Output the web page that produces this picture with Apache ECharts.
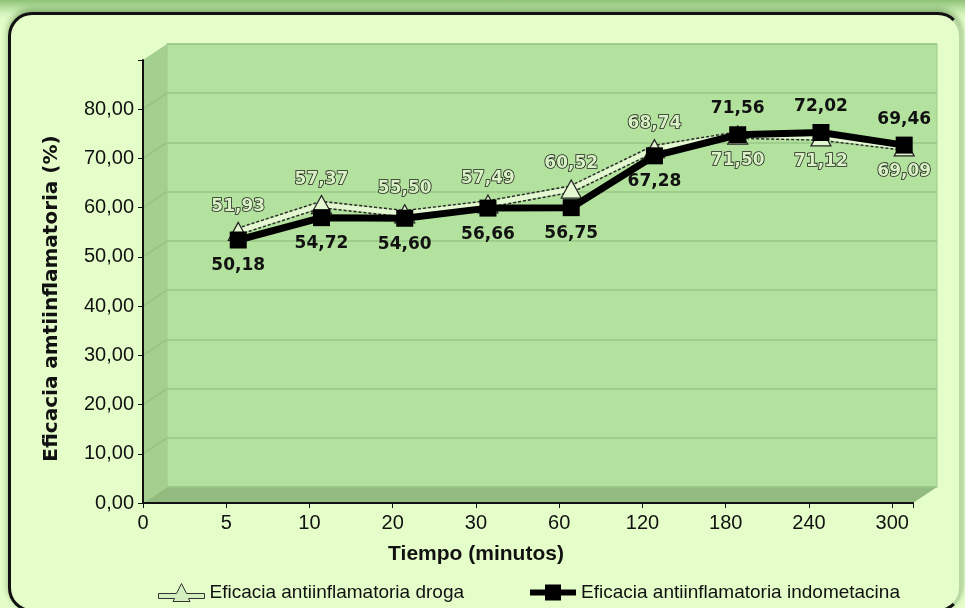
<!DOCTYPE html>
<html>
<head>
<meta charset="utf-8">
<script src="https://cdn.jsdelivr.net/npm/echarts@6/dist/echarts.min.js"></script>
<style>
  html, body { margin: 0; padding: 0; }
  body {
    width: 965px; height: 608px; overflow: hidden; position: relative;
    background: linear-gradient(#8fc177 0px, #b9e2a2 8px, #d6f5bf 14px, #e4fdc9 20px);
  }
  #frame {
    position: absolute; left: 8px; top: 12px; width: 954px; height: 600px;
    box-sizing: border-box;
    border: 3px solid #111; border-right-color: #b9d9a4;
    border-radius: 24px; background: #e4fdc9;
    box-shadow: 0 -3px 6px rgba(40, 90, 20, 0.45);
  }
  #main { position: absolute; left: 0; top: 0; width: 965px; height: 608px; }
</style>
</head>
<body>
<div id="frame"></div>
<div id="main"></div>
<script>
  // eje X (minutos) y series
  const xLabels = ['0', '5', '10', '20', '30', '60', '120', '180', '240', '300'];
  const tiempos = ['5', '10', '20', '30', '60', '120', '180', '240', '300'];
  const droga = [51.93, 57.37, 55.50, 57.49, 60.52, 68.74, 71.50, 71.12, 69.09];
  const indometacina = [50.18, 54.72, 54.60, 56.66, 56.75, 67.28, 71.56, 72.02, 69.46];
  const yTicks = [0, 10, 20, 30, 40, 50, 60, 70, 80];

  const nombreDroga = 'Eficacia antiinflamatoria droga';
  const nombreIndo = 'Eficacia antiinflamatoria indometacina';

  // plano frontal del grafico y profundidad del efecto 3D
  const front = { left: 143, top: 60, width: 770, height: 443 };
  const depth = { dx: 24, dy: -16 };
  const serieOffset = { dx: 12, dy: -16 }; // donde se dibujan las lineas
  const yMax = 90;
  const xMax = 9.25;

  const coma = (v) => v.toFixed(2).replace('.', ',');
  const labelFont = { fontFamily: 'DejaVu Sans', fontWeight: 'bold', fontSize: 17 };

  // iconos de la leyenda (barra + marcador)
  const iconDroga = 'path://M0 10L18 10L23 0L28 10L46 10L46 15L30 15L31.5 18L14.5 18L16 15L0 15Z';
  const iconIndo = 'path://M0 6L15 6L15 1L31 1L31 6L46 6L46 12L31 12L31 17L15 17L15 12L0 12Z';

  const grid = (dx, dy) => ({
    left: front.left + dx,
    top: front.top + dy,
    width: front.width,
    height: front.height
  });

  const puntos = (arr, otra) => arr.map((v, i) => ({
    value: [xLabels.indexOf(tiempos[i]), v],
    label: { position: v >= otra[i] ? 'top' : 'bottom' }
  }));

  const myChart = echarts.init(document.getElementById('main'));

  const hiddenX = (g) => ({
    type: 'value', gridIndex: g, min: 0, max: xMax, interval: 1,
    axisLine: { show: false }, axisTick: { show: false },
    axisLabel: { show: false }, splitLine: { show: false }
  });

  myChart.setOption({
    animation: false,
    grid: [
      Object.assign({ show: false }, grid(0, 0)),
      Object.assign({ show: false }, grid(serieOffset.dx, serieOffset.dy)),
      Object.assign({
        show: true,
        backgroundColor: '#b3e19e',
        borderColor: '#9fcc8b',
        borderWidth: 1
      }, grid(depth.dx, depth.dy))
    ],
    xAxis: [
      {
        type: 'value', gridIndex: 0, min: 0, max: xMax, interval: 1,
        name: 'Tiempo (minutos)', nameLocation: 'middle', nameGap: 41,
        nameTextStyle: {
          fontFamily: 'Liberation Sans', fontWeight: 'bold', fontSize: 21, color: '#111',
          padding: [0, 104, 0, 0]
        },
        axisLine: { lineStyle: { color: '#111', width: 2 } },
        axisTick: { lineStyle: { color: '#111' }, length: 5 },
        axisLabel: {
          fontFamily: 'Liberation Sans', fontSize: 20, color: '#111', margin: 10,
          formatter: (v) => (Number.isInteger(v) ? xLabels[v] : '')
        },
        splitLine: { show: false }
      },
      hiddenX(1),
      hiddenX(2)
    ],
    yAxis: [
      {
        type: 'value', gridIndex: 0, min: 0, max: yMax, interval: 10,
        name: 'Eficacia amtiinflamatoria (%)', nameLocation: 'middle', nameGap: 81,
        nameTextStyle: {
          fontFamily: 'DejaVu Sans', fontWeight: 'bold', fontSize: 20, color: '#111',
          padding: [0, 34, 0, 0]
        },
        axisLine: { show: true, lineStyle: { color: '#111', width: 2 } },
        axisTick: { show: true, lineStyle: { color: '#111' }, length: 5 },
        axisLabel: {
          fontFamily: 'Liberation Sans', fontSize: 20, color: '#111', margin: 9,
          formatter: (v) => (yTicks.includes(v) ? coma(v) : '')
        },
        splitLine: { show: false }
      },
      {
        type: 'value', gridIndex: 1, min: 0, max: yMax, interval: 10,
        axisLine: { show: false }, axisTick: { show: false },
        axisLabel: { show: false }, splitLine: { show: false }
      },
      {
        type: 'value', gridIndex: 2, min: 0, max: yMax, interval: 10,
        axisLine: { show: false }, axisTick: { show: false }, axisLabel: { show: false },
        splitLine: { show: true, lineStyle: { color: '#98c685', width: 1.5 } }
      }
    ],
    legend: {
      data: [
        { name: nombreDroga, icon: iconDroga,
          itemStyle: { color: '#d3efbe', borderColor: '#333', borderWidth: 1 } },
        { name: nombreIndo, icon: iconIndo, itemStyle: { color: '#000' } }
      ],
      left: 153, top: 578,
      itemWidth: 46, itemHeight: 18, itemGap: 66,
      textStyle: { fontFamily: 'Liberation Sans', fontSize: 19, color: '#111' }
    },
    series: [
      {
        // contorno de la linea de la droga
        name: 'contorno', type: 'line', xAxisIndex: 1, yAxisIndex: 1,
        data: puntos(droga, indometacina).map(p => p.value),
        symbol: 'none', silent: true, z: 2,
        lineStyle: { color: '#2b2b2b', width: 8, type: [3, 2] }
      },
      {
        name: nombreDroga, type: 'line', xAxisIndex: 1, yAxisIndex: 1,
        data: puntos(droga, indometacina),
        symbol: 'triangle', symbolSize: [20, 18], z: 3,
        itemStyle: { color: '#e3f7d0', borderColor: '#222', borderWidth: 1.2 },
        lineStyle: { color: '#e3f7d0', width: 5 },
        label: Object.assign({
          show: true, distance: 7,
          color: '#d9f2c4', textBorderColor: '#222', textBorderWidth: 1.6,
          formatter: (p) => coma(p.value[1])
        }, labelFont)
      },
      {
        name: nombreIndo, type: 'line', xAxisIndex: 1, yAxisIndex: 1,
        data: puntos(indometacina, droga),
        symbol: 'rect', symbolSize: 17, z: 4,
        itemStyle: { color: '#000' },
        lineStyle: { color: '#000', width: 7 },
        label: Object.assign({
          show: true, distance: 9, color: '#111',
          formatter: (p) => coma(p.value[1])
        }, labelFont)
      }
    ]
  });

  // paredes laterales y piso del efecto 3D, a partir de la escala del eje
  const bottom = front.top + front.height;
  const right = front.left + front.width;
  const graphic = [
    {
      type: 'polygon', z: -1, silent: true,
      shape: { points: [[front.left, front.top], [front.left + depth.dx, front.top + depth.dy],
        [front.left + depth.dx, bottom + depth.dy], [front.left, bottom]] },
      style: { fill: '#a4d08f' }
    },
    {
      type: 'polygon', z: -1, silent: true,
      shape: { points: [[front.left, bottom], [front.left + depth.dx, bottom + depth.dy],
        [right + depth.dx, bottom + depth.dy], [right, bottom]] },
      style: { fill: '#93bb7f' }
    }
  ];
  yTicks.slice(1).forEach((v) => {
    const p = myChart.convertToPixel({ gridIndex: 0 }, [0, v]);
    graphic.push({
      type: 'line', z: -1, silent: true,
      shape: { x1: p[0], y1: p[1], x2: p[0] + depth.dx, y2: p[1] + depth.dy },
      style: { stroke: '#94c283', lineWidth: 1.5 }
    });
  });
  myChart.setOption({ graphic });
</script>
</body>
</html>
